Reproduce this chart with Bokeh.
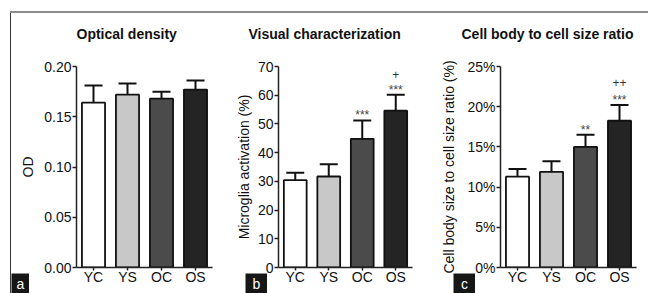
from bokeh.plotting import figure
from bokeh.layouts import row, column
from bokeh.models import (ColumnDataSource, Whisker, TeeHead, FixedTicker, Label,
                          PrintfTickFormatter, NumeralTickFormatter, Spacer,
                          Title, FactorRange, Range1d)
from bokeh.core.properties import value
from bokeh.embed import file_html
from bokeh.resources import INLINE

FONT = "Liberation Sans"

groups = ["YC", "YS", "OC", "OS"]
bar_colors = ["#ffffff", "#c8c8c8", "#4b4b4b", "#242424"]

# Panel a: optical density
od_mean = [0.164, 0.172, 0.168, 0.177]
od_sem = [0.017, 0.011, 0.007, 0.009]
od_ticks = [0, 0.05, 0.10, 0.15, 0.20]

# Panel b: microglia activation (%)
act_mean = [30.4, 31.7, 44.8, 54.6]
act_sem = [2.6, 4.3, 6.4, 5.6]
act_sig = ["", "", "***", "***"]
act_vs = ["", "", "", "+"]
act_ticks = [0, 10, 20, 30, 40, 50, 60, 70]

# Panel c: cell body size to cell size ratio (%)
ratio_mean = [11.3, 11.9, 15.0, 18.25]
ratio_sem = [0.95, 1.3, 1.5, 1.95]
ratio_sig = ["", "", "**", "***"]
ratio_vs = ["", "", "", "++"]
ratio_ticks = [0, 5, 10, 15, 20, 25]

titles = ["Optical density", "Visual characterization", "Cell body to cell size ratio"]
ylabels = ["OD", "Microglia activation (%)", "Cell body size to cell size ratio (%)"]
letters = ["a", "b", "c"]

H = 293
MBT = 64
MBB = 26
TAG_H = 20


def make_panel(title, ylabel, means, sems, y_end, ticks, fmt, width, mbl, mbr,
               label_standoff, title_offset, sig=None, vs=None, vs_offset=-22):
    upper = [m + s for m, s in zip(means, sems)]
    lower = [m - s for m, s in zip(means, sems)]
    src = ColumnDataSource(dict(x=groups, top=means, upper=upper, lower=lower,
                                color=bar_colors,
                                sig=sig if sig else [""] * 4,
                                vs=vs if vs else [""] * 4))
    p = figure(x_range=FactorRange(factors=groups, range_padding=0),
               y_range=Range1d(0, y_end), width=width, height=H,
               output_backend="svg", toolbar_location=None,
               min_border_left=mbl, min_border_right=mbr,
               min_border_top=MBT, min_border_bottom=MBB)
    p.outline_line_color = None
    p.grid.visible = False
    p.background_fill_color = "white"
    p.border_fill_color = None

    p.vbar(x="x", top="top", width=0.68, source=src, fill_color="color",
           line_color="#111111", line_width=1.8)
    w = Whisker(source=src, base="x", upper="upper", lower="lower",
                line_color="#111111", line_width=2,
                upper_head=TeeHead(size=18, line_width=2, line_color="#111111"),
                lower_head=TeeHead(size=18, line_width=2, line_color="#111111"))
    p.add_layout(w)
    if sig:
        p.text(x="x", y="upper", text="sig", source=src, y_offset=-5,
               text_align="center", text_baseline="middle",
               text_font_size="12px", text_color="#444444", text_font=value(FONT))
    if vs:
        p.text(x="x", y="upper", text="vs", source=src, y_offset=vs_offset,
               text_align="center", text_baseline="middle",
               text_font_size="12px", text_color="#333333", text_font=value(FONT))

    ya = p.yaxis[0]
    ya.ticker = FixedTicker(ticks=ticks)
    ya.formatter = fmt
    ya.axis_label = ylabel
    ya.axis_label_text_font = FONT
    ya.axis_label_text_font_size = "14px"
    ya.axis_label_text_font_style = "normal"
    ya.axis_label_text_color = "#111111"
    ya.axis_label_standoff = label_standoff
    ya.major_label_text_font = FONT
    ya.major_label_text_font_size = "14px"
    ya.major_label_text_color = "#111111"
    ya.major_label_standoff = 1
    ya.major_tick_out = 4
    ya.major_tick_in = 0
    ya.minor_tick_out = 0
    ya.minor_tick_in = 0
    ya.axis_line_color = "#222222"
    ya.axis_line_width = 1.5
    ya.major_tick_line_color = "#222222"
    ya.major_tick_line_width = 1.5

    xa = p.xaxis[0]
    xa.major_label_text_font = FONT
    xa.major_label_text_font_size = "14px"
    xa.major_label_text_color = "#111111"
    xa.major_label_standoff = -2
    xa.major_tick_out = 3
    xa.major_tick_in = 0
    xa.axis_line_color = "#222222"
    xa.axis_line_width = 1.5
    xa.major_tick_line_color = "#222222"
    xa.major_tick_line_width = 1.5

    p.title = Title(text=title, align="left", offset=title_offset,
                    text_font=FONT, text_font_size="14px", text_font_style="bold",
                    text_color="#111111", vertical_align="middle", standoff=48)
    return p


def make_tag(letter, width):
    t = figure(width=width, height=TAG_H, x_range=Range1d(0, 1), y_range=Range1d(0, 1),
               x_axis_type=None, y_axis_type=None, output_backend="svg",
               toolbar_location=None, min_border=0)
    t.grid.visible = False
    t.outline_line_color = None
    t.background_fill_color = "#161616"
    t.border_fill_color = "#161616"
    t.add_layout(Label(x=width / 2, y=TAG_H / 2, x_units="screen", y_units="screen",
                       text=letter, text_font=FONT, text_font_size="14px",
                       text_color="white", text_align="center",
                       text_baseline="middle"))
    return t


pa = make_panel(titles[0], ylabels[0], od_mean, od_sem, 0.20, od_ticks,
                NumeralTickFormatter(format="0.00"), 226, 76, 14, 5, 0)
pb = make_panel(titles[1], ylabels[1], act_mean, act_sem, 70, act_ticks,
                PrintfTickFormatter(format="%d"), 204, 52, 18, 3, -30,
                sig=act_sig, vs=act_vs, vs_offset=-20)
pc = make_panel(titles[2], ylabels[2], ratio_mean, ratio_sem, 25, ratio_ticks,
                PrintfTickFormatter(format="%d%%"), 218, 70, 12, 7, -39,
                sig=ratio_sig, vs=ratio_vs, vs_offset=-23)

frame_css = ("linear-gradient(#8c8c8c,#8c8c8c) 10px 11px / 638px 2px no-repeat, "
             "linear-gradient(#3a3a3a,#3a3a3a) 10px 11px / 1px 282px no-repeat, white")

panels = row(pa, pb, pc, spacing=0, styles={"background": frame_css})

tags = row(Spacer(width=11, height=TAG_H), make_tag(letters[0], 18),
           Spacer(width=216, height=TAG_H), make_tag(letters[1], 22),
           Spacer(width=186, height=TAG_H), make_tag(letters[2], 22),
           spacing=0, margin=(-TAG_H, 0, 0, 0))

layout = column(panels, tags, spacing=0)
open("out.html", "w").write(file_html(layout, INLINE))
